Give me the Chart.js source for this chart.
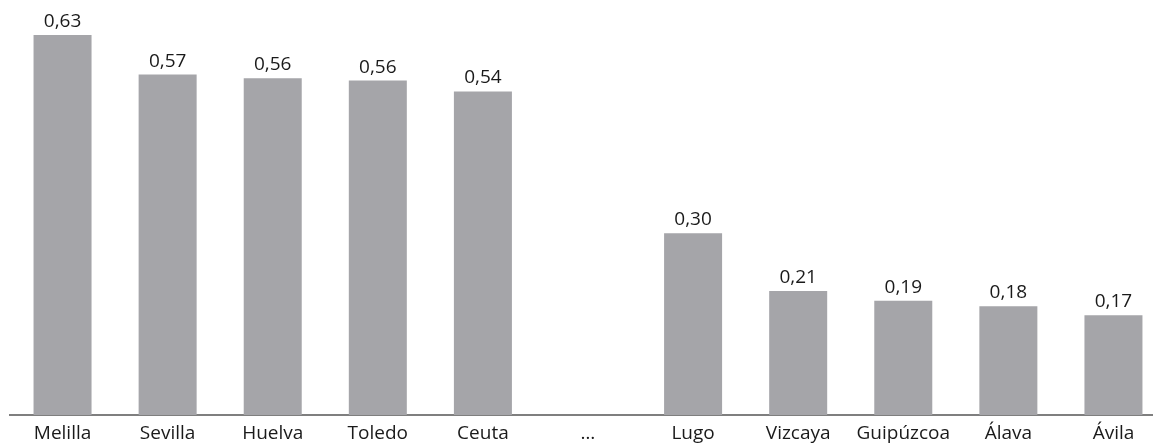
<!DOCTYPE html>
<html>
<head>
<meta charset="utf-8">
<script src="https://cdn.jsdelivr.net/npm/chart.js@4"></script>
<style>
  html, body { margin: 0; padding: 0; overflow: hidden; background: #fff; }
  #wrap { width: 1166px; height: 444px; }
</style>
</head>
<body>
<div id="wrap"><canvas id="box"></canvas></div>
<script>
var provincias = ["Melilla", "Sevilla", "Huelva", "Toledo", "Ceuta", "…", "Lugo", "Vizcaya", "Guipúzcoa", "Álava", "Ávila"];
var valores = [0.632, 0.566, 0.560, 0.556, 0.538, null, 0.302, 0.206, 0.190, 0.181, 0.166];

var fuente = "'Open Sans', sans-serif";

// etiquetas encima de cada barra
var etiquetas = {
    id: 'etiquetas',
    afterDatasetsDraw: function (chart) {
        var ctx = chart.ctx;
        var meta = chart.getDatasetMeta(0);
        ctx.save();
        ctx.font = "19px " + fuente;
        ctx.fillStyle = "#1a1a1a";
        ctx.textAlign = "center";
        ctx.textBaseline = "alphabetic";
        meta.data.forEach(function (bar, i) {
            var v = valores[i];
            if (v === null) return;
            ctx.fillText(v.toFixed(2).replace('.', ','), bar.x, bar.y - 8);
        });
        ctx.restore();
    }
};

var mychart = new Chart("box", {
    type: "bar",
    data: {
        labels: provincias,
        datasets: [
            {
            data: valores,
            backgroundColor: '#a5a5a9',
            categoryPercentage: 1,
            barPercentage: 0.552
            }
        ]
    },
    options: {
        responsive: true,
        maintainAspectRatio: false,
        animation: false,
        layout: { padding: { left: 10, right: 0, top: 0, bottom: 0 } },
        plugins: { legend: { display: false }, tooltip: { enabled: false } },
        scales: {
            x: {
                grid: { display: false, drawTicks: false },
                border: { display: true, color: '#7f7f7f', width: 2 },
                ticks: { color: '#1a1a1a', padding: 7, maxRotation: 0, autoSkip: false, font: { family: fuente, size: 19 } },
                afterFit: function (scale) { scale.height = 29; }
            },
            y: {
                display: false,
                min: 0,
                max: 0.69
            }
        }
    },
    plugins: [etiquetas]
});
</script>
</body>
</html>
